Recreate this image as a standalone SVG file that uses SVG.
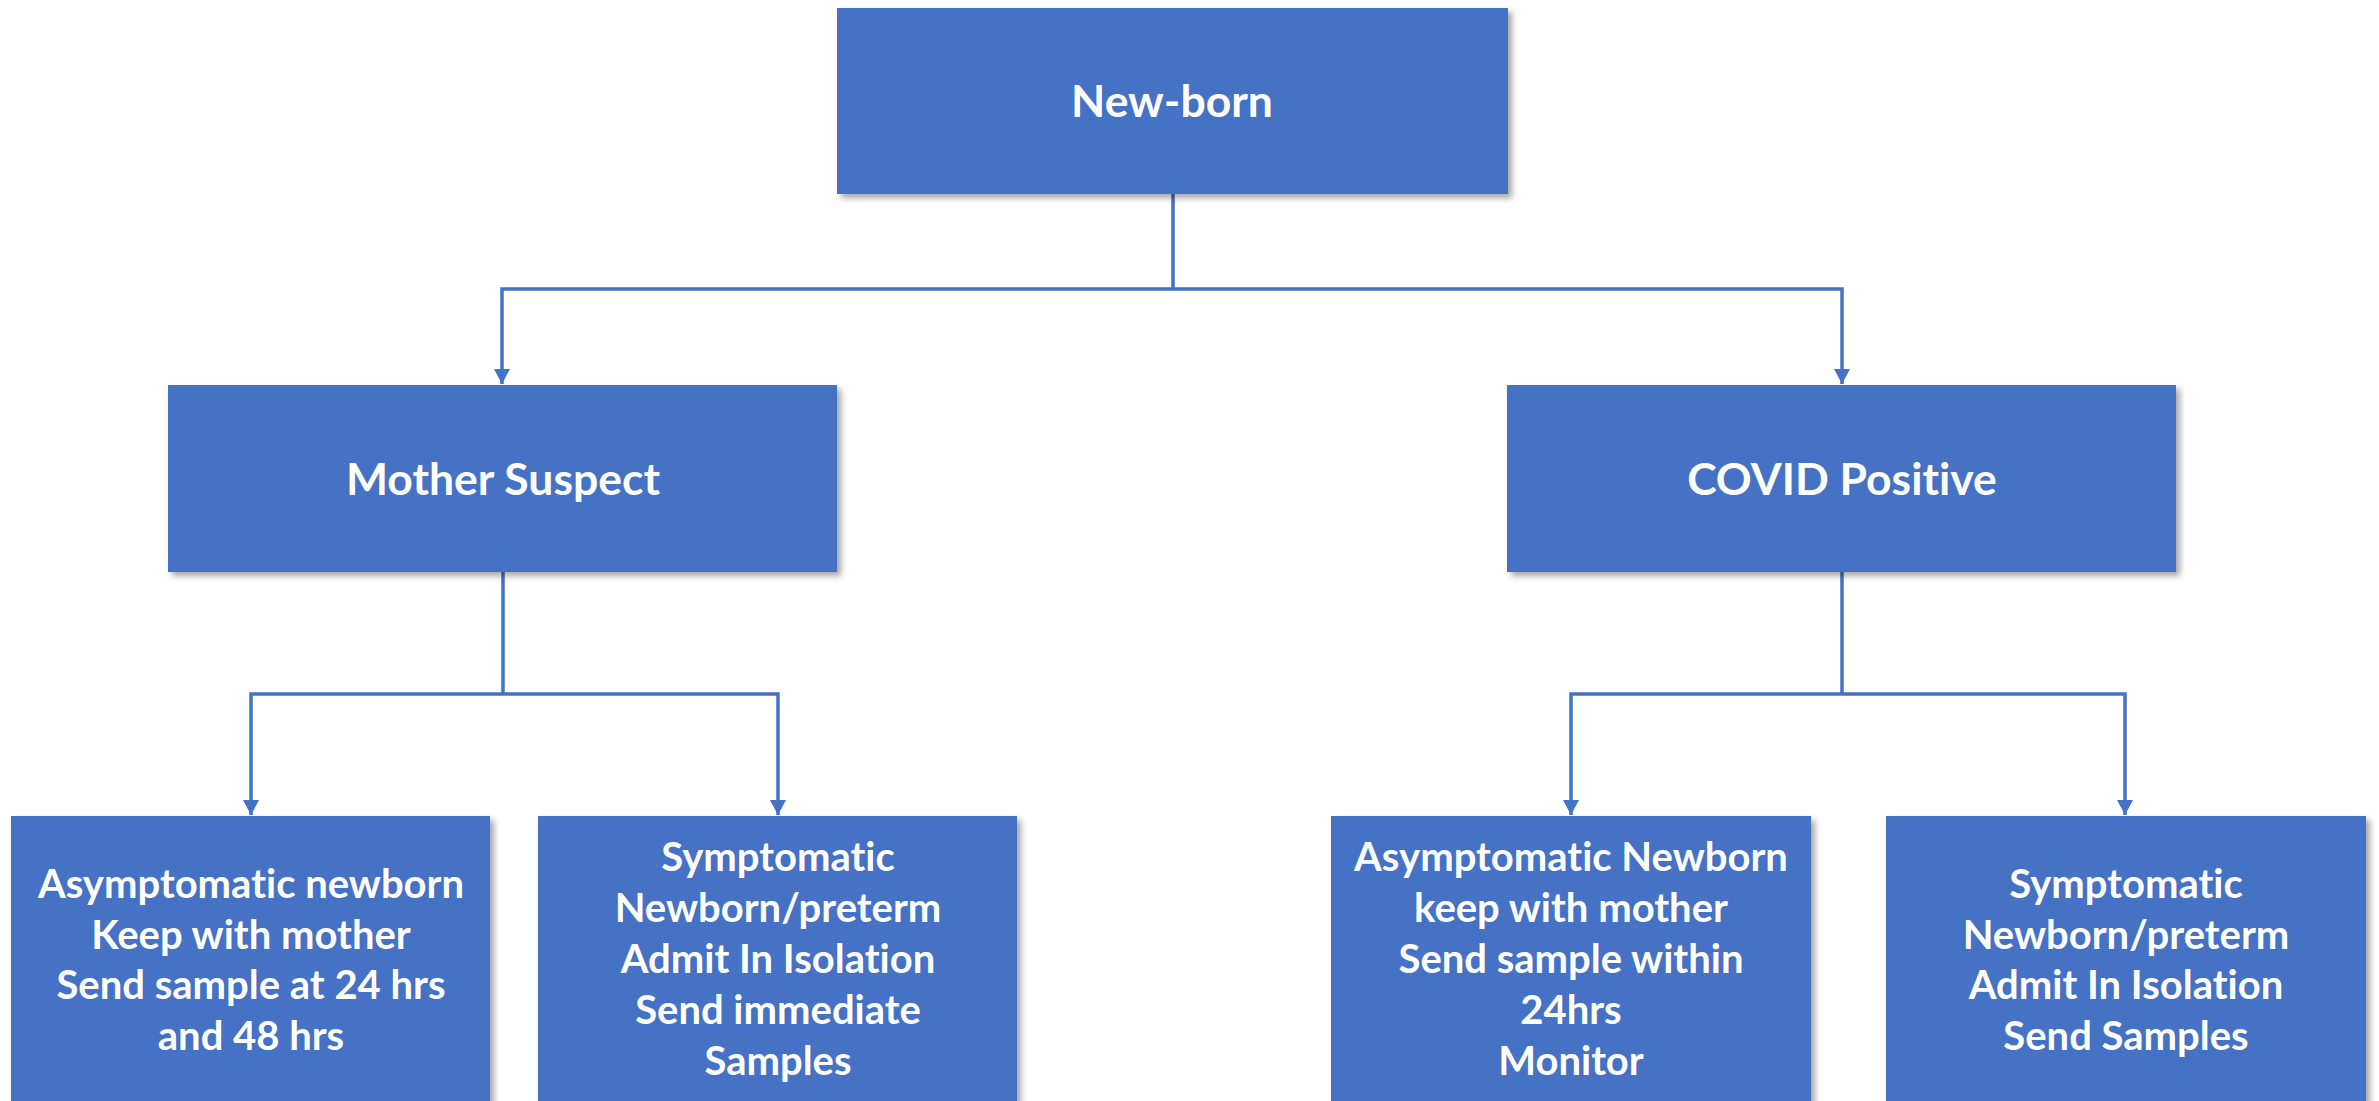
<svg xmlns="http://www.w3.org/2000/svg" width="2379" height="1101" viewBox="0 0 2379 1101">
  <style>
    .box { fill: #4472C4; filter: url(#shadow); }
    text { font-variant-ligatures: none; font-feature-settings: "liga" 0; }
    .title { font-family: Lato, "Liberation Sans", sans-serif; font-weight: bold; font-size: 44.5px; fill: #FFFFFF; text-anchor: middle; }
    .body { font-family: Lato, "Liberation Sans", sans-serif; font-weight: bold; font-size: 40px; fill: #FFFFFF; text-anchor: middle; }
    .wire { fill: none; stroke: #4472C4; stroke-width: 3.5; }
  </style>
  <defs>
    <filter id="shadow" x="-5%" y="-5%" width="115%" height="120%">
      <feDropShadow dx="4" dy="4" stdDeviation="3" flood-color="#000000" flood-opacity="0.35"/>
    </filter>
    <marker id="arrow" markerUnits="userSpaceOnUse" markerWidth="16" markerHeight="16" refX="15" refY="8" orient="auto">
      <path d="M0,0 L15,8 L0,16 Z" fill="#4472C4"/>
    </marker>
  </defs>
  <rect width="2379" height="1101" fill="#FFFFFF"/>

  <!-- connectors -->
  <g id="connectors">
    <path class="wire" d="M1173,194 V289"/>
    <path class="wire" d="M1173,289 H502 V384" marker-end="url(#arrow)"/>
    <path class="wire" d="M1173,289 H1842 V384" marker-end="url(#arrow)"/>
    <path class="wire" d="M503,572 V694"/>
    <path class="wire" d="M503,694 H251 V815" marker-end="url(#arrow)"/>
    <path class="wire" d="M503,694 H778 V815" marker-end="url(#arrow)"/>
    <path class="wire" d="M1842,572 V694"/>
    <path class="wire" d="M1842,694 H1571 V815" marker-end="url(#arrow)"/>
    <path class="wire" d="M1842,694 H2125 V815" marker-end="url(#arrow)"/>
  </g>

  <!-- root -->
  <g id="newborn">
    <rect class="box" x="837" y="8" width="671" height="186"/>
    <text class="title" x="1172" y="117">New-born</text>
  </g>

  <!-- second level -->
  <g id="mother-suspect">
    <rect class="box" x="168" y="385" width="669" height="187"/>
    <text class="title" x="503" y="495">Mother Suspect</text>
  </g>
  <g id="covid-positive">
    <rect class="box" x="1507" y="385" width="669" height="187"/>
    <text class="title" x="1842" y="495">COVID Positive</text>
  </g>

  <!-- leaves -->
  <g id="ms-asymptomatic">
    <rect class="box" x="11" y="816" width="479" height="300"/>
    <text class="body" x="251" y="898">Asymptomatic newborn</text>
    <text class="body" x="251" y="949">Keep with mother</text>
    <text class="body" x="251" y="999">Send sample at 24 hrs</text>
    <text class="body" x="251" y="1050">and 48 hrs</text>
  </g>
  <g id="ms-symptomatic">
    <rect class="box" x="538" y="816" width="479" height="300"/>
    <text class="body" x="778" y="871">Symptomatic</text>
    <text class="body" x="778" y="922">Newborn/preterm</text>
    <text class="body" x="778" y="973">Admit In Isolation</text>
    <text class="body" x="778" y="1024">Send immediate</text>
    <text class="body" x="778" y="1075">Samples</text>
  </g>
  <g id="cp-asymptomatic">
    <rect class="box" x="1331" y="816" width="480" height="300"/>
    <text class="body" x="1571" y="871">Asymptomatic Newborn</text>
    <text class="body" x="1571" y="922">keep with mother</text>
    <text class="body" x="1571" y="973">Send sample within</text>
    <text class="body" x="1571" y="1024">24hrs</text>
    <text class="body" x="1571" y="1075">Monitor</text>
  </g>
  <g id="cp-symptomatic">
    <rect class="box" x="1886" y="816" width="480" height="300"/>
    <text class="body" x="2126" y="898">Symptomatic</text>
    <text class="body" x="2126" y="949">Newborn/preterm</text>
    <text class="body" x="2126" y="999">Admit In Isolation</text>
    <text class="body" x="2126" y="1050">Send Samples</text>
  </g>
</svg>
